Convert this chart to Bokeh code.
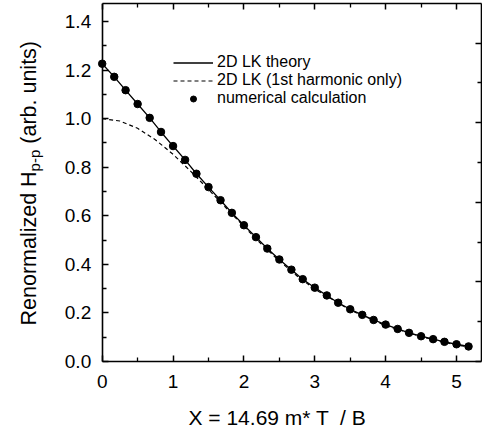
import math
from bokeh.plotting import figure
from bokeh.models import (Range1d, LinearAxis, FixedTicker, Legend, LegendItem, Label)
from bokeh.embed import file_html
from bokeh.resources import INLINE

# ---- data ----
x_num = [0.00, 0.17, 0.33, 0.50, 0.67, 0.83, 1.00, 1.17, 1.33, 1.50, 1.67, 1.83,
         2.00, 2.17, 2.33, 2.50, 2.67, 2.83, 3.00, 3.17, 3.33, 3.50, 3.67, 3.83,
         4.00, 4.17, 4.33, 4.50, 4.67, 4.83, 5.00, 5.17]
y_num = [1.226, 1.172, 1.117, 1.060, 1.003, 0.945, 0.887, 0.830, 0.773, 0.718, 0.664, 0.612,
         0.561, 0.512, 0.465, 0.420, 0.378, 0.339, 0.304, 0.272, 0.242, 0.215, 0.192, 0.171,
         0.152, 0.134, 0.118, 0.104, 0.092, 0.081, 0.071, 0.062]
x_theory = x_num
y_theory = y_num
x_dash = [0.00, 0.25, 0.50, 0.75, 1.00, 1.25, 1.50, 1.75, 2.00, 2.25, 2.50, 2.75,
          3.00, 3.50, 4.00, 4.50, 5.00, 5.17]
y_dash = [1.000, 0.990, 0.960, 0.913, 0.853, 0.783, 0.708, 0.632, 0.556, 0.482, 0.414, 0.352,
          0.298, 0.212, 0.148, 0.102, 0.068, 0.060]

x_ticks = [0, 1, 2, 3, 4, 5]
x_tick_labels = ["0", "1", "2", "3", "4", "5"]
x_minor = [0.5, 1.5, 2.5, 3.5, 4.5]
y_ticks = [0.0, 0.2, 0.4, 0.6, 0.8, 1.0, 1.2, 1.4]
y_tick_labels = ["0.0", "0.2", "0.4", "0.6", "0.8", "1.0", "1.2", "1.4"]
y_minor = [0.1, 0.3, 0.5, 0.7, 0.9, 1.1, 1.3]
r_ticks = [0, 1, 2, 3, 4]
r_minor = [0.5, 1.5, 2.5, 3.5, 4.5]

series_labels = ["2D LK theory", "2D LK (1st harmonic only)", "numerical calculation"]
x_title = "X = 14.69 m* T \u00a0/ B"
y_title_parts = ["Renormalized H", "p-p", "(arb. units)"]

FONT = "Liberation Sans"
W, H = 482, 428

# layout of the plotting box (pixels) -> ranges
X0, XU = 101.7, 70.86       # px of x=0, px per x unit
Y0, YU = 361.0, 242.9       # px of y=0, px per y unit
RU = 79.6                   # px per unit on the right-hand secondary scale
BOX_TOP, BOX_RIGHT = 3, 481
X_RIGHT = (BOX_RIGHT - X0) / XU
Y_TOP = (Y0 - BOX_TOP) / YU

# frame spans from the canvas' left/bottom edges up to the box's top/right edges
p = figure(width=W, height=H, output_backend="svg", toolbar_location=None,
           x_range=Range1d(-X0 / XU, X_RIGHT),
           y_range=Range1d(-(H - Y0) / YU, Y_TOP),
           min_border_left=0, min_border_bottom=0,
           min_border_top=BOX_TOP, min_border_right=W - BOX_RIGHT,
           x_axis_type=None, y_axis_type=None)
p.extra_y_ranges = {"right": Range1d(-(H - Y0) / RU, (Y0 - BOX_TOP) / RU)}
p.outline_line_color = None
p.background_fill_color = "white"
p.border_fill_color = None


def style(ax):
    ax.axis_line_width = 1.6
    ax.axis_line_color = "black"
    ax.major_tick_in = 6
    ax.major_tick_out = 0
    ax.minor_tick_in = 4
    ax.minor_tick_out = 0
    ax.major_tick_line_width = 1.5
    ax.minor_tick_line_width = 1.3
    ax.major_tick_line_color = "black"
    ax.minor_tick_line_color = "black"
    ax.major_label_text_font = FONT
    ax.major_label_text_font_size = "19px"
    ax.major_label_text_color = "black"


bottom = LinearAxis(ticker=FixedTicker(ticks=x_ticks, minor_ticks=x_minor),
                    major_label_overrides=dict(zip(x_ticks, x_tick_labels)),
                    fixed_location=0, bounds=(0, X_RIGHT))
style(bottom)
bottom.major_label_standoff = 13
p.add_layout(bottom, "below")

left = LinearAxis(ticker=FixedTicker(ticks=y_ticks, minor_ticks=y_minor),
                  major_label_overrides=dict(zip(y_ticks, y_tick_labels)),
                  fixed_location=0, bounds=(0, Y_TOP))
style(left)
left.major_label_standoff = 11
p.add_layout(left, "left")

# top edge: same ticks as the bottom, no labels (sits on the frame's top edge)
top = LinearAxis(ticker=FixedTicker(ticks=x_ticks, minor_ticks=x_minor),
                 major_label_overrides={t: "" for t in x_ticks},
                 bounds=(0, X_RIGHT))
style(top)
top.major_label_standoff = 0
top.major_label_text_font_size = "1px"
p.add_layout(top, "above")

# right edge: its own (unlabelled) scale (sits on the frame's right edge)
right = LinearAxis(y_range_name="right",
                   ticker=FixedTicker(ticks=r_ticks, minor_ticks=r_minor),
                   major_label_overrides={t: "" for t in r_ticks},
                   bounds=(0, (Y0 - BOX_TOP) / RU))
style(right)
right.major_label_standoff = 0
right.major_label_text_font_size = "1px"
p.add_layout(right, "right")

r_theory = p.line(x_theory, y_theory, line_color="black", line_width=1.3)
r_dash = p.line(x_dash, y_dash, line_color="black", line_width=1.2, line_dash="4 3")
r_pts = p.scatter(x_num, y_num, marker="circle", size=7.5,
                  fill_color="black", line_color="black")

# legend: one row per entry so the rows can sit close together as in the reference
row_bottoms = [357, 339, 321]
for lab, rend, vy in zip(series_labels, [r_theory, r_dash, r_pts], row_bottoms):
    lg = Legend(items=[LegendItem(label=lab, renderers=[rend])],
                location=(173, vy), border_line_alpha=0, background_fill_alpha=0,
                label_text_font=FONT, label_text_font_size="16px",
                label_text_color="black", glyph_width=40, glyph_height=15,
                label_height=15, padding=0, margin=0, label_standoff=4)
    p.add_layout(lg)

# axis titles (screen units, origin at the bottom-left of the frame = canvas corner)
p.add_layout(Label(x=277, y=H - 417, x_units="screen", y_units="screen", text=x_title,
                   text_align="center", text_baseline="alphabetic",
                   text_font=FONT, text_font_size="21px", text_color="black"))

fs = 21.5
sub = 15
y_start = H - 325
p.add_layout(Label(x=28, y=y_start, x_units="screen", y_units="screen",
                   text=y_title_parts[0], angle=math.pi / 2, text_align="left",
                   text_baseline="alphabetic", text_font=FONT,
                   text_font_size=f"{fs}px", text_color="black"))
y_sub = y_start + 7.168 * fs
p.add_layout(Label(x=34, y=y_sub, x_units="screen", y_units="screen",
                   text=y_title_parts[1], angle=math.pi / 2, text_align="left",
                   text_baseline="alphabetic", text_font=FONT,
                   text_font_size=f"{sub}px", text_color="black"))
y_rest = y_sub + 1.445 * sub + 0.278 * fs
p.add_layout(Label(x=28, y=y_rest, x_units="screen", y_units="screen",
                   text=y_title_parts[2], angle=math.pi / 2, text_align="left",
                   text_baseline="alphabetic", text_font=FONT,
                   text_font_size=f"{fs}px", text_color="black"))

open("out.html", "w").write(file_html(p, INLINE))
